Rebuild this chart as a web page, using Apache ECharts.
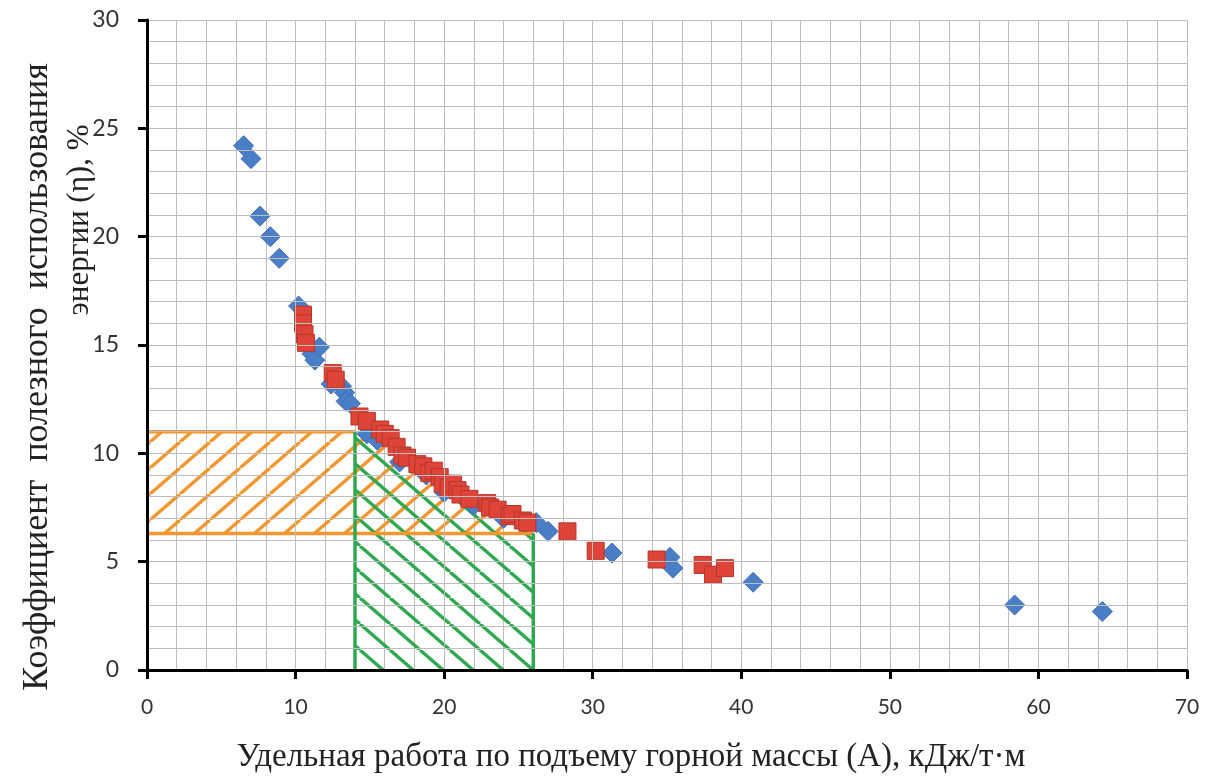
<!DOCTYPE html>
<html><head><meta charset="utf-8">
<script src="https://cdn.jsdelivr.net/npm/echarts@6/dist/echarts.min.js"></script>
<style>html,body{margin:0;padding:0;background:#fff}#c{width:1207px;height:778px}</style>
</head><body><div id="c"></div>
<script>
// ---- data ----
const blueSeries = [
  [6.5,24.2],[7.0,23.6],[7.6,20.95],[8.3,20.0],[8.9,19.0],[10.2,16.8],
  [11.1,14.6],[11.3,14.3],[11.6,14.9],[12.4,13.2],[13.1,13.1],[13.3,12.8],
  [13.4,12.4],[13.7,12.3],[14.8,10.9],[15.5,10.6],[17.0,9.6],[18.8,9.0],
  [20.0,8.2],[22.0,7.6],[24.0,7.0],[26.2,6.8],[27.0,6.4],[31.3,5.4],
  [35.2,5.2],[35.4,4.7],[40.8,4.05],[58.4,3.0],[64.3,2.7]
];
const redSeries = [
  [10.5,16.4],[10.5,16.0],[10.6,15.5],[10.7,15.1],[12.5,13.7],[12.7,13.4],
  [14.3,11.7],[14.8,11.5],[15.7,11.1],[16.0,10.9],[16.4,10.7],[16.8,10.3],
  [17.2,9.9],[17.5,9.8],[18.2,9.5],[18.6,9.4],[19.0,9.1],[19.3,9.2],
  [19.7,8.9],[19.9,8.6],[20.3,8.4],[20.6,8.6],[20.9,8.3],[21.1,8.1],
  [21.7,7.9],[22.9,7.7],[23.1,7.5],[23.6,7.4],[24.4,7.1],[24.6,7.2],
  [25.3,6.9],[25.6,6.8],[28.3,6.4],[30.2,5.5],[34.3,5.1],[37.4,4.85],
  [38.1,4.4],[38.9,4.7]
];
// hatched zones
const zoneX = [0, 14, 26];          // left edge, split, right edge
const zoneY = [6.3, 11.0];          // orange band bottom / top
const zoneCurve = [[14,11.0],[16,10.3],[18,9.4],[20,8.5],[22,7.8],[24,7.1],[26,6.3]];
const xTicks = [0,10,20,30,40,50,60,70];
const yTicks = [0,5,10,15,20,25,30];

const ORANGE = '#F2962F', GREEN = '#2FA84F';

function hatch(color, up) {
  const W = 30, H = 26;
  const c = document.createElement('canvas');
  c.width = W; c.height = H;
  const g = c.getContext('2d');
  g.strokeStyle = color; g.lineWidth = 3.4; g.lineCap = 'butt';
  for (let k = -1; k <= 1; k++) {
    g.beginPath();
    if (up) { g.moveTo(k*W, H); g.lineTo(k*W + W, 0); }
    else { g.moveTo(k*W, 0); g.lineTo(k*W + W, H); }
    g.stroke();
  }
  return {image: c, repeat: 'repeat'};
}
const orangePat = hatch(ORANGE, true);
const greenPat = hatch(GREEN, false);

const chart = echarts.init(document.getElementById('c'));
const labelFont = 'Lato, "Open Sans", sans-serif';
const gridColor = '#BDBDBD';
chart.setOption({
  animation: false,
  grid: {left: 147, right: 20, top: 20, bottom: 108},
  xAxis: [{
    type: 'value', min: xTicks[0], max: xTicks[xTicks.length-1], interval: 10,
    axisLine: {show: true, onZero: false, lineStyle: {color: '#000', width: 3}},
    axisTick: {show: true, length: 9, lineStyle: {color: '#000', width: 3}},
    axisLabel: {margin: 27, fontSize: 21, color: '#333', fontFamily: '"Liberation Sans Narrow", Lato, sans-serif'},
    splitLine: {show: true, lineStyle: {color: gridColor, width: 1}},
    z: 5
  }, {
    type: 'value', min: xTicks[0], max: xTicks[xTicks.length-1], interval: 2, position: 'bottom',
    axisLine: {show: false}, axisTick: {show: false}, axisLabel: {show: false},
    splitLine: {show: true, lineStyle: {color: gridColor, width: 1}}
  }],
  yAxis: {
    type: 'value', min: yTicks[0], max: yTicks[yTicks.length-1], interval: 5,
    axisLine: {show: true, onZero: false, lineStyle: {color: '#000', width: 3}},
    axisTick: {show: true, length: 9, lineStyle: {color: '#000', width: 3}},
    axisLabel: {margin: 28, fontSize: 23, color: '#333', fontFamily: labelFont},
    splitLine: {show: true, lineStyle: {color: gridColor, width: 1}},
    minorTick: {show: false, splitNumber: 5},
    minorSplitLine: {show: true, lineStyle: {color: gridColor, width: 1}},
    z: 5
  },
  graphic: [
    {type: 'text', x: 631, y: 757, style: {text: 'Удельная работа по подъему горной массы (А), кДж/т·м',
      font: '33px "Liberation Serif", "DejaVu Serif", serif', fill: '#222', align: 'center', verticalAlign: 'middle'}},
    {type: 'text', x: 38, y: 377, rotation: Math.PI/2, style: {text: 'Коэффициент  полезного  использования',
      font: '36px "Liberation Serif", "DejaVu Serif", serif', fill: '#222', align: 'center', verticalAlign: 'middle'}},
    {type: 'text', x: 80, y: 220, rotation: Math.PI/2, style: {text: 'энергии (η), %',
      font: '31px "Liberation Serif", "DejaVu Serif", serif', fill: '#222', align: 'center', verticalAlign: 'middle'}}
  ],
  series: [
    {
      type: 'custom', z: 1, silent: true, data: [0],
      renderItem: function (params, api) {
        const c = p => api.coord(p);
        const orangePoly = [[zoneX[0], zoneY[0]], [zoneX[0], zoneY[1]], ...zoneCurve, [zoneX[2], zoneY[0]]].map(c);
        const greenPoly = [[zoneX[1], 0], ...zoneCurve, [zoneX[2], 0]].map(c);
        return {type: 'group', children: [
          {type: 'polygon', shape: {points: orangePoly}, style: {fill: orangePat, stroke: null}},
          {type: 'polygon', shape: {points: greenPoly}, style: {fill: greenPat, stroke: null}},
          {type: 'polyline', shape: {points: [[zoneX[0], zoneY[1]], [zoneX[1], zoneY[1]]].map(c)}, style: {stroke: ORANGE, lineWidth: 3.5, fill: null}},
          {type: 'polyline', shape: {points: [[zoneX[0], zoneY[0]], [zoneX[2], zoneY[0]]].map(c)}, style: {stroke: ORANGE, lineWidth: 3.5, fill: null}},
          {type: 'polyline', shape: {points: [[zoneX[1], 0], [zoneX[1], zoneY[1]]].map(c)}, style: {stroke: GREEN, lineWidth: 3.5, fill: null}},
          {type: 'polyline', shape: {points: [[zoneX[2], 0], [zoneX[2], zoneY[0]]].map(c)}, style: {stroke: GREEN, lineWidth: 3.5, fill: null}}
        ]};
      }
    },
    {
      type: 'scatter', z: 3, data: blueSeries, symbol: 'diamond', symbolSize: 20,
      itemStyle: {color: '#4A7FC8', borderColor: '#3F6FB5', borderWidth: 1, opacity: 1}
    },
    {
      type: 'scatter', z: 4, data: redSeries, symbol: 'rect', symbolSize: 17,
      itemStyle: {color: '#DE4538', borderColor: '#B5352D', borderWidth: 1, opacity: 1}
    }
  ]
});
</script></body></html>
